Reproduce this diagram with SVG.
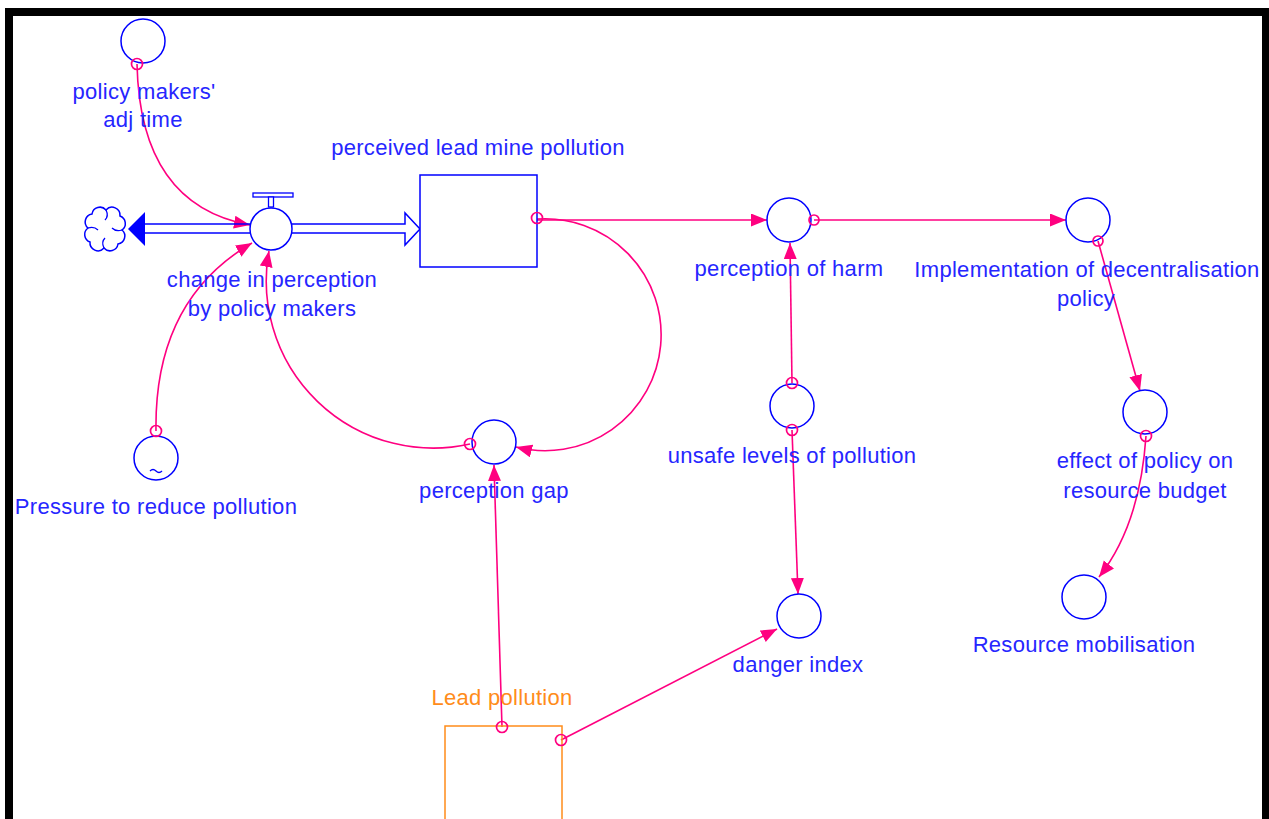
<svg xmlns="http://www.w3.org/2000/svg" width="1269" height="819" viewBox="0 0 1269 819">
<style>
  .lbl { font-family: "Liberation Sans", Arial, sans-serif; font-size: 22px; fill: #2626ff; text-anchor: middle; letter-spacing: 0.3px; }
  .org { fill: #ff8c1a; }
  .aux { fill: #ffffff; stroke: #0000ff; stroke-width: 1.5; }
  .stock { fill: #ffffff; stroke: #0000ff; stroke-width: 1.5; }
  .lnk { fill: none; stroke: #ff0080; stroke-width: 1.6; }
  .tail { fill: none; stroke: #ff0080; stroke-width: 1.7; }
  .pipe { fill: #ffffff; stroke: #0000ff; stroke-width: 1.5; }
</style>
<defs>
  <marker id="ah" markerUnits="userSpaceOnUse" markerWidth="18" markerHeight="14" refX="16" refY="6.5" orient="auto">
    <path d="M0,0 L16,6.5 L0,13 z" fill="#ff0080"/>
  </marker>
</defs>
<rect x="0" y="0" width="1269" height="819" fill="#ffffff"/>
<rect x="9" y="12" width="1257" height="900" fill="none" stroke="#000000" stroke-width="8"/>

<g id="connectors">
  <path class="lnk" d="M137,64 Q140,205 250,225" marker-end="url(#ah)"/>
  <path class="lnk" d="M156,431 Q154,300 252,243" marker-end="url(#ah)"/>
  <path class="lnk" d="M470,444 A167,167 0 0 1 269,251" marker-end="url(#ah)"/>
  <path class="lnk" d="M537,219 A116,116 0 1 1 516,447" marker-end="url(#ah)"/>
  <path class="lnk" d="M537,220 L767,220" marker-end="url(#ah)"/>
  <path class="lnk" d="M814,220 L1066,220" marker-end="url(#ah)"/>
  <path class="lnk" d="M792,383 L790,243" marker-end="url(#ah)"/>
  <path class="lnk" d="M792,430 L798,594" marker-end="url(#ah)"/>
  <path class="lnk" d="M1098,241 L1140,391" marker-end="url(#ah)"/>
  <path class="lnk" d="M1146,436 Q1140,525 1099,577" marker-end="url(#ah)"/>
  <path class="lnk" d="M502,727 L494,465" marker-end="url(#ah)"/>
  <path class="lnk" d="M561,740 L777,629" marker-end="url(#ah)"/>
</g>

<g id="flow-change-in-perception">
  <path d="M92,214 a8,8 0 0 1 14,-4 a8,8 0 0 1 14,6 a8,8 0 0 1 2,14 a8,8 0 0 1 -4,14 a8,8 0 0 1 -14,4 a8,8 0 0 1 -14,-6 a8,8 0 0 1 -2,-14 a8,8 0 0 1 4,-14 z" fill="#ffffff" stroke="#0000ff" stroke-width="1.5"/>
  <path d="M106,210 q3,6 -1,10 M122,230 q-6,2 -10,-2 M104,248 q-3,-6 1,-10 M88,228 q6,-2 10,2" fill="none" stroke="#0000ff" stroke-width="1.3"/>
  <line x1="145" y1="224" x2="250" y2="224" stroke="#0000ff" stroke-width="1.5"/>
  <line x1="145" y1="233" x2="250" y2="233" stroke="#0000ff" stroke-width="1.5"/>
  <polygon points="128,229 145,212 145,246" fill="#0000ff"/>
  <path class="pipe" d="M292,224 H405 V213 L420,229 L405,245 V233 H292"/>
  <rect x="253" y="193" width="40" height="4" fill="#ffffff" stroke="#0000ff" stroke-width="1.3"/>
  <rect x="268.5" y="197" width="5" height="10" fill="#ffffff" stroke="#0000ff" stroke-width="1.3"/>
  <circle class="aux" cx="271" cy="229" r="21"/>
  <text class="lbl" x="272" y="287">change in perception</text>
  <text class="lbl" x="272" y="316">by policy makers</text>
</g>

<g id="stock-perceived-lead-mine-pollution">
  <rect class="stock" x="420" y="175" width="117" height="92"/>
  <text class="lbl" x="478" y="155">perceived lead mine pollution</text>
</g>

<g id="policy-makers-adj-time">
  <circle class="aux" cx="143" cy="41" r="22"/>
  <text class="lbl" x="144" y="99">policy makers'</text>
  <text class="lbl" x="143" y="127">adj time</text>
</g>

<g id="pressure-to-reduce-pollution">
  <circle class="aux" cx="156" cy="458" r="22"/>
  <path d="M150,471 q3,-3 6,0 t6,0" fill="none" stroke="#0000ff" stroke-width="1.3"/>
  <text class="lbl" x="156" y="514">Pressure to reduce pollution</text>
</g>

<g id="perception-gap">
  <circle class="aux" cx="494" cy="442" r="22"/>
  <text class="lbl" x="494" y="498">perception gap</text>
</g>

<g id="perception-of-harm">
  <circle class="aux" cx="789" cy="220" r="22"/>
  <text class="lbl" x="789" y="276">perception of harm</text>
</g>

<g id="implementation-of-decentralisation-policy">
  <circle class="aux" cx="1088" cy="220" r="22"/>
  <text class="lbl" x="1087" y="277">Implementation of decentralisation</text>
  <text class="lbl" x="1086" y="306">policy</text>
</g>

<g id="unsafe-levels-of-pollution">
  <circle class="aux" cx="792" cy="406" r="22"/>
  <text class="lbl" x="792" y="463">unsafe levels of pollution</text>
</g>

<g id="danger-index">
  <circle class="aux" cx="799" cy="616" r="22"/>
  <text class="lbl" x="798" y="672">danger index</text>
</g>

<g id="effect-of-policy-on-resource-budget">
  <circle class="aux" cx="1145" cy="412" r="22"/>
  <text class="lbl" x="1145" y="468">effect of policy on</text>
  <text class="lbl" x="1145" y="498">resource budget</text>
</g>

<g id="resource-mobilisation">
  <circle class="aux" cx="1084" cy="597" r="22"/>
  <text class="lbl" x="1084" y="652">Resource mobilisation</text>
</g>

<g id="lead-pollution">
  <rect x="445" y="726" width="117" height="96" fill="none" stroke="#ff8c1a" stroke-width="1.5"/>
  <text class="lbl org" x="502" y="705">Lead pollution</text>
</g>

<g id="connector-tails">
  <circle class="tail" cx="137" cy="64" r="5.5"/>
  <circle class="tail" cx="537" cy="218" r="5.5"/>
  <circle class="tail" cx="814" cy="220" r="5"/>
  <circle class="tail" cx="1098" cy="241" r="5"/>
  <circle class="tail" cx="792" cy="383" r="5.5"/>
  <circle class="tail" cx="792" cy="430" r="5.5"/>
  <circle class="tail" cx="1146" cy="436" r="5.5"/>
  <circle class="tail" cx="156" cy="431" r="5.5"/>
  <circle class="tail" cx="470" cy="444" r="5.5"/>
  <circle class="tail" cx="502" cy="727" r="5.5"/>
  <circle class="tail" cx="561" cy="740" r="5.5"/>
</g>
</svg>
